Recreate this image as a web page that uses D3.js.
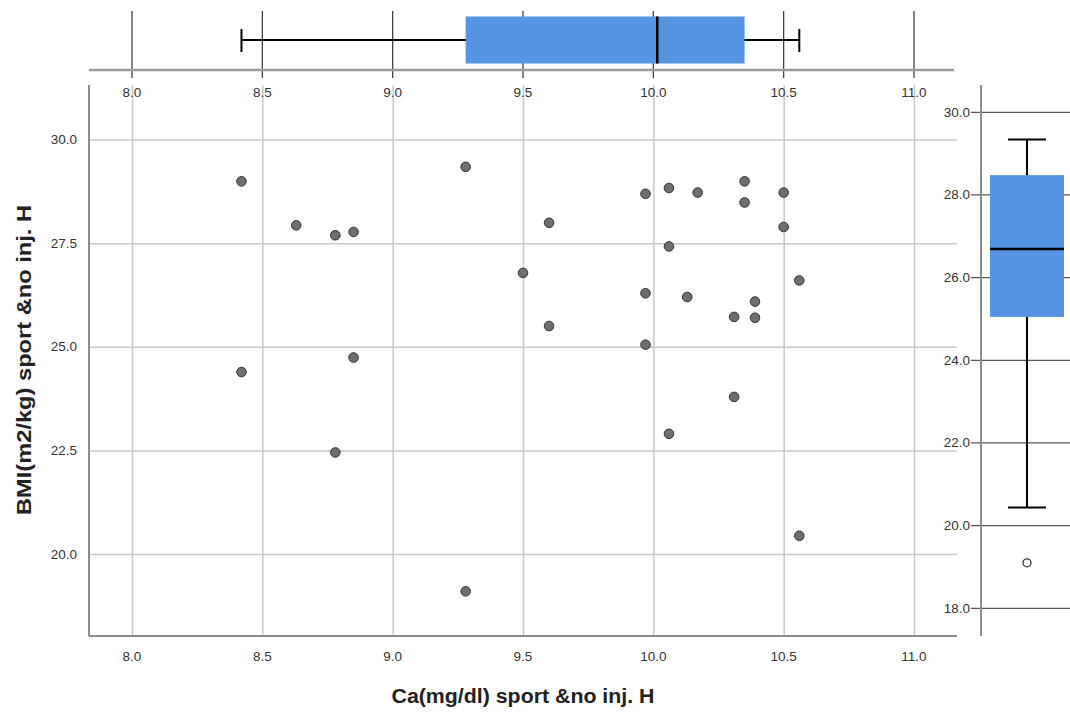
<!DOCTYPE html>
<html>
<head>
<meta charset="utf-8">
<script src="https://cdn.jsdelivr.net/npm/d3@7"></script>
<style>
  body { margin: 0; background: #fff; }
  text { font-family: "Liberation Sans", Arial, sans-serif; }
</style>
</head>
<body>
<div id="container"></div>
<script>
/* DATA */
// Ca(mg/dl) and BMI for each case
const caValues = [8.42, 8.42, 8.63, 8.78, 8.78, 8.85, 8.85, 9.28, 9.28, 9.50,
  9.60, 9.60, 9.97, 9.97, 9.97, 10.06, 10.06, 10.06, 10.13, 10.17,
  10.31, 10.31, 10.35, 10.35, 10.39, 10.39, 10.50, 10.50, 10.56, 10.56];
const bmiValues = [28.99, 24.39, 27.93, 27.69, 22.45, 27.77, 24.74, 29.34, 19.10, 26.78,
  27.99, 25.50, 28.69, 26.29, 25.05, 28.83, 27.42, 22.90, 26.20, 28.72,
  25.72, 23.79, 28.99, 28.48, 26.09, 25.70, 28.72, 27.89, 26.60, 20.44];

const xTicks = [8.0, 8.5, 9.0, 9.5, 10.0, 10.5, 11.0];
const yTicks = [20.0, 22.5, 25.0, 27.5, 30.0];
const boxYTicks = [18.0, 20.0, 22.0, 24.0, 26.0, 28.0, 30.0];

const xTitle = "Ca(mg/dl) sport &no inj. H";
const yTitle = "BMI(m2/kg) sport &no inj. H";

/* CONSTANTS */
const width = 1070, height = 715;
const plot = { left: 89, right: 957, top: 85, bottom: 636 };
const boxBlue = "#5494e3";

// tukey hinges + whiskers (SPSS style boxplot)
function boxStats(values) {
  const s = values.slice().sort((a, b) => a - b);
  const n = s.length;
  const half = Math.floor((n + 1) / 2);
  const lower = s.slice(0, half), upper = s.slice(n - half);
  const q1 = d3.median(lower), q3 = d3.median(upper), med = d3.median(s);
  const iqr = q3 - q1;
  const inside = s.filter(v => v >= q1 - 1.5 * iqr && v <= q3 + 1.5 * iqr);
  const outliers = s.filter(v => v < q1 - 1.5 * iqr || v > q3 + 1.5 * iqr);
  return { q1, q3, med, lo: d3.min(inside), hi: d3.max(inside), outliers };
}

const points = caValues.map((d, i) => ({ ca: d, bmi: bmiValues[i] }));

/* SCALES */
const xScale = d3.scaleLinear().domain([7.835, 11.165]).range([plot.left, plot.right]);
const yScale = d3.scaleLinear().domain([18.022, 31.315]).range([plot.bottom, plot.top]);
const yBoxScale = d3.scaleLinear().domain([17.33, 30.66]).range([plot.bottom, plot.top]);

const svg = d3.select("#container").append("svg")
  .attr("width", width)
  .attr("height", height);

svg.append("rect").attr("width", width).attr("height", height).attr("fill", "#fff");

/* MAIN SCATTER */
// gridlines
svg.append("g")
  .attr("transform", `translate(0, ${plot.bottom})`)
  .call(d3.axisBottom(xScale).tickValues(xTicks).tickSize(-(plot.bottom - plot.top)).tickFormat(""))
  .call(g => g.select(".domain").remove())
  .call(g => g.selectAll("line").attr("stroke", "#c8c8c8").attr("stroke-width", 1.5));

svg.append("g")
  .attr("transform", `translate(${plot.left}, 0)`)
  .call(d3.axisLeft(yScale).tickValues(yTicks).tickSize(-(plot.right - plot.left)).tickFormat(""))
  .call(g => g.select(".domain").remove())
  .call(g => g.selectAll("line").attr("stroke", "#c8c8c8").attr("stroke-width", 1.5));

// axis lines
svg.append("line")
  .attr("x1", plot.left).attr("x2", plot.left)
  .attr("y1", plot.top).attr("y2", plot.bottom)
  .attr("stroke", "#8c8c8c").attr("stroke-width", 2);
svg.append("line")
  .attr("x1", plot.left).attr("x2", plot.right)
  .attr("y1", plot.bottom).attr("y2", plot.bottom)
  .attr("stroke", "#8c8c8c").attr("stroke-width", 2);

// tick labels
svg.append("g").selectAll("text")
  .data(xTicks)
  .join("text")
  .attr("x", d => xScale(d))
  .attr("y", 661)
  .attr("text-anchor", "middle")
  .attr("font-size", 13.5)
  .attr("fill", "#333")
  .text(d => d.toFixed(1));

svg.append("g").selectAll("text")
  .data(yTicks)
  .join("text")
  .attr("x", 77)
  .attr("y", d => yScale(d) + 4.5)
  .attr("text-anchor", "end")
  .attr("font-size", 13.5)
  .attr("fill", "#333")
  .text(d => d.toFixed(1));

// points
svg.append("g").selectAll("circle")
  .data(points)
  .join("circle")
  .attr("cx", d => xScale(d.ca))
  .attr("cy", d => yScale(d.bmi))
  .attr("r", 4.8)
  .attr("fill", "#6e6e6e")
  .attr("stroke", "#333")
  .attr("stroke-width", 1);

// titles
svg.append("text")
  .attr("x", 523)
  .attr("y", 703)
  .attr("text-anchor", "middle")
  .attr("font-size", 20)
  .attr("font-weight", "bold")
  .attr("fill", "#222")
  .attr("textLength", 263)
  .attr("lengthAdjust", "spacingAndGlyphs")
  .text(xTitle);

svg.append("text")
  .attr("transform", `translate(31, 360) rotate(-90)`)
  .attr("text-anchor", "middle")
  .attr("font-size", 21)
  .attr("font-weight", "bold")
  .attr("fill", "#222")
  .attr("textLength", 310)
  .attr("lengthAdjust", "spacingAndGlyphs")
  .text(yTitle);

/* TOP BOXPLOT (Ca) */
const cs = boxStats(caValues);
const topPanel = svg.append("g");

topPanel.selectAll("line.grid")
  .data(xTicks)
  .join("line")
  .attr("class", "grid")
  .attr("x1", d => xScale(d)).attr("x2", d => xScale(d))
  .attr("y1", 11).attr("y2", 78)
  .attr("stroke", "#333").attr("stroke-width", 1.2);

topPanel.append("line")
  .attr("x1", plot.left).attr("x2", 954)
  .attr("y1", 70).attr("y2", 70)
  .attr("stroke", "#9a9a9a").attr("stroke-width", 2.5);

topPanel.selectAll("text")
  .data(xTicks)
  .join("text")
  .attr("x", d => xScale(d))
  .attr("y", 97)
  .attr("text-anchor", "middle")
  .attr("font-size", 13.5)
  .attr("fill", "#333")
  .text(d => d.toFixed(1));

// whisker
topPanel.append("line")
  .attr("x1", xScale(cs.lo)).attr("x2", xScale(cs.hi))
  .attr("y1", 40).attr("y2", 40)
  .attr("stroke", "#000").attr("stroke-width", 2);
topPanel.selectAll("line.cap")
  .data([cs.lo, cs.hi])
  .join("line")
  .attr("class", "cap")
  .attr("x1", d => xScale(d)).attr("x2", d => xScale(d))
  .attr("y1", 29).attr("y2", 52)
  .attr("stroke", "#000").attr("stroke-width", 2);
topPanel.append("rect")
  .attr("x", xScale(cs.q1))
  .attr("y", 16.5)
  .attr("width", xScale(cs.q3) - xScale(cs.q1))
  .attr("height", 47)
  .attr("fill", boxBlue);
topPanel.append("line")
  .attr("x1", xScale(cs.med)).attr("x2", xScale(cs.med))
  .attr("y1", 16.5).attr("y2", 63.5)
  .attr("stroke", "#000").attr("stroke-width", 2.5);

/* RIGHT BOXPLOT (BMI) */
const bs = boxStats(bmiValues);
const rightPanel = svg.append("g");
const boxAxisX = 981, boxCx = 1027;

rightPanel.selectAll("line.grid")
  .data(boxYTicks)
  .join("line")
  .attr("class", "grid")
  .attr("x1", 971).attr("x2", width)
  .attr("y1", d => yBoxScale(d)).attr("y2", d => yBoxScale(d))
  .attr("stroke", "#555").attr("stroke-width", 1.3);

rightPanel.append("line")
  .attr("x1", boxAxisX).attr("x2", boxAxisX)
  .attr("y1", plot.top).attr("y2", plot.bottom)
  .attr("stroke", "#8c8c8c").attr("stroke-width", 2);

rightPanel.selectAll("text")
  .data(boxYTicks)
  .join("text")
  .attr("x", 970)
  .attr("y", d => yBoxScale(d) + 4.5)
  .attr("text-anchor", "end")
  .attr("font-size", 13.5)
  .attr("fill", "#333")
  .text(d => d.toFixed(1));

rightPanel.append("line")
  .attr("x1", boxCx).attr("x2", boxCx)
  .attr("y1", yBoxScale(bs.lo)).attr("y2", yBoxScale(bs.hi))
  .attr("stroke", "#000").attr("stroke-width", 2);
rightPanel.selectAll("line.cap")
  .data([bs.lo, bs.hi])
  .join("line")
  .attr("class", "cap")
  .attr("x1", 1008).attr("x2", 1046)
  .attr("y1", d => yBoxScale(d)).attr("y2", d => yBoxScale(d))
  .attr("stroke", "#000").attr("stroke-width", 2);
rightPanel.append("rect")
  .attr("x", 990)
  .attr("y", yBoxScale(bs.q3))
  .attr("width", 74)
  .attr("height", yBoxScale(bs.q1) - yBoxScale(bs.q3))
  .attr("fill", boxBlue);
rightPanel.append("line")
  .attr("x1", 990).attr("x2", 1064)
  .attr("y1", yBoxScale(bs.med)).attr("y2", yBoxScale(bs.med))
  .attr("stroke", "#000").attr("stroke-width", 2.5);
rightPanel.selectAll("circle")
  .data(bs.outliers)
  .join("circle")
  .attr("cx", boxCx)
  .attr("cy", d => yBoxScale(d))
  .attr("r", 4)
  .attr("fill", "#fff")
  .attr("stroke", "#333")
  .attr("stroke-width", 1.3);
</script>
</body>
</html>
